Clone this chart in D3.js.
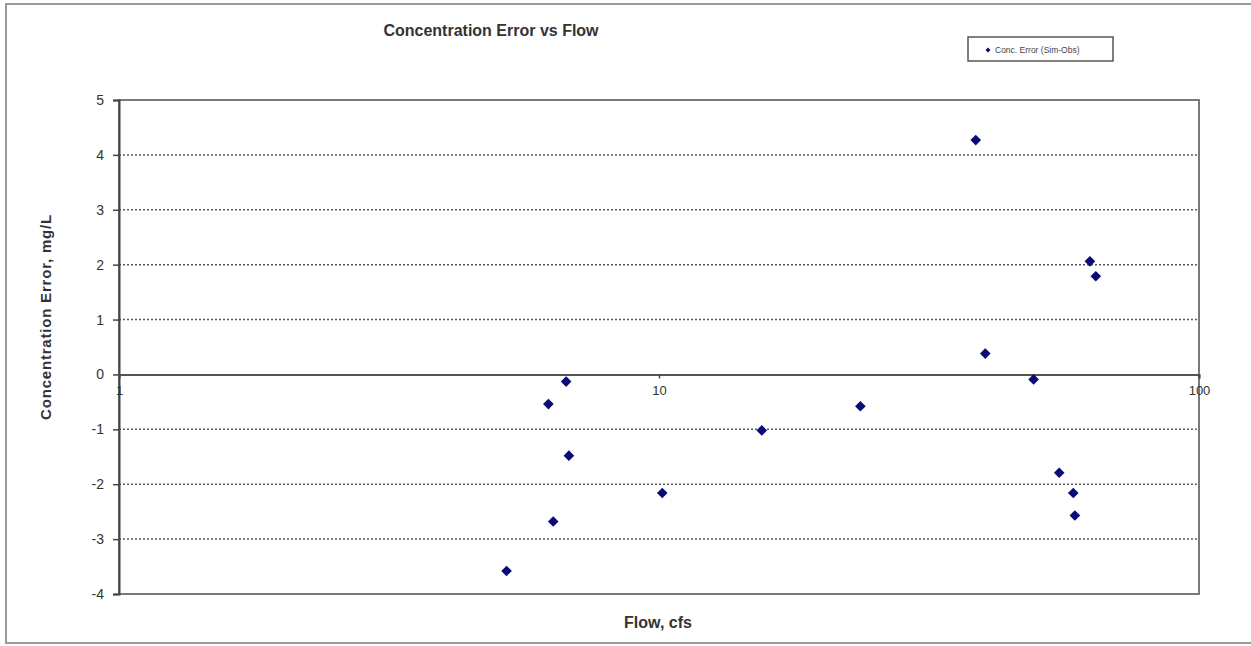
<!DOCTYPE html>
<html>
<head>
<meta charset="utf-8">
<script src="https://cdn.jsdelivr.net/npm/d3@7"></script>
<style>
  body { margin: 0; background: #fff; }
  svg { display: block; font-family: Arial, "Liberation Sans", sans-serif; }
</style>
</head>
<body>
<script>
// flow (cfs) and concentration error (mg/L)
const flow = [38.6, 62.8, 64.4, 40.2, 49.4, 6.73, 6.24, 6.81, 23.6, 15.5, 10.14, 6.37, 5.22, 55.1, 58.5, 58.9];
const concError = [4.27, 2.06, 1.79, 0.38, -0.09, -0.13, -0.54, -1.48, -0.58, -1.02, -2.16, -2.68, -3.58, -1.79, -2.16, -2.57];
const yTicks = [-4, -3, -2, -1, 0, 1, 2, 3, 4, 5];
const xTicks = [1, 10, 100];

const W = 1251, H = 646;
const plot = { left: 119, right: 1199, top: 100, bottom: 594 };

const x = d3.scaleLog().domain([1, 100]).range([plot.left, plot.right]);
const y = d3.scaleLinear().domain([-4, 5]).range([plot.bottom, plot.top]);

const svg = d3.select('body').append('svg')
  .attr('width', W)
  .attr('height', H);

// outer chart frame
svg.append('rect')
  .attr('x', 6).attr('y', 4)
  .attr('width', W + 10).attr('height', 639)
  .attr('fill', '#fff')
  .attr('stroke', '#9a9a9a')
  .attr('stroke-width', 2);

// plot area border
svg.append('rect')
  .attr('x', plot.left).attr('y', plot.top)
  .attr('width', plot.right - plot.left).attr('height', plot.bottom - plot.top)
  .attr('fill', 'none')
  .attr('stroke', '#7a7a7a')
  .attr('stroke-width', 2);

// dashed gridlines
svg.append('g')
  .selectAll('line')
  .data(yTicks.filter(d => d !== 0 && d !== -4 && d !== 5))
  .join('line')
  .attr('x1', plot.left).attr('x2', plot.right)
  .attr('y1', d => y(d)).attr('y2', d => y(d))
  .attr('stroke', '#5a5a5a')
  .attr('stroke-width', 1.5)
  .attr('stroke-dasharray', '2,2');

// y axis (plain hyphen minus, like the original)
const yAxis = d3.axisLeft(y).tickValues(yTicks).tickSize(6).tickPadding(9).tickFormat(d => String(d));
const gy = svg.append('g')
  .attr('transform', `translate(${plot.left},0)`)
  .call(yAxis);
gy.select('.domain').attr('stroke', '#444').attr('stroke-width', 2);
gy.selectAll('.tick line').attr('stroke', '#444').attr('stroke-width', 1.5);
gy.selectAll('.tick text')
  .attr('fill', '#333')
  .style('font-size', '14px');

// x axis crossing at zero
const xAxis = d3.axisBottom(x).tickValues(xTicks).tickSize(4).tickPadding(7).tickFormat(d => String(d));
const gx = svg.append('g')
  .attr('transform', `translate(0,${y(0)})`)
  .call(xAxis);
gx.select('.domain').attr('stroke', '#555').attr('stroke-width', 2);
gx.selectAll('.tick line').attr('stroke', '#444').attr('stroke-width', 1.5);
gx.selectAll('.tick text')
  .attr('fill', '#333')
  .style('font-size', '13px');

// points
const diamond = d3.symbol().type(d3.symbolDiamond2).size(72);
svg.append('g')
  .selectAll('path')
  .data(flow.map((f, i) => ({ f, e: concError[i] })))
  .join('path')
  .attr('d', diamond)
  .attr('transform', d => `translate(${x(d.f)},${y(d.e)})`)
  .attr('fill', '#0a0a78');

// title
svg.append('text')
  .attr('x', 491).attr('y', 36)
  .attr('text-anchor', 'middle')
  .style('font-size', '16px')
  .style('font-weight', 'bold')
  .attr('fill', '#333')
  .text('Concentration Error vs Flow');

// axis titles
svg.append('text')
  .attr('transform', 'translate(51,317) rotate(-90)')
  .attr('text-anchor', 'middle')
  .style('font-size', '15px')
  .style('font-weight', 'bold')
  .style('letter-spacing', '0.8px')
  .attr('fill', '#333')
  .text('Concentration Error, mg/L');

svg.append('text')
  .attr('x', 658).attr('y', 628)
  .attr('text-anchor', 'middle')
  .style('font-size', '16px')
  .style('font-weight', 'bold')
  .attr('fill', '#333')
  .text('Flow, cfs');

// legend
const legend = svg.append('g').attr('transform', 'translate(968,37)');
legend.append('rect')
  .attr('width', 145).attr('height', 24)
  .attr('fill', '#fff')
  .attr('stroke', '#555')
  .attr('stroke-width', 1.5);
legend.append('path')
  .attr('d', d3.symbol().type(d3.symbolDiamond2).size(16))
  .attr('transform', 'translate(20,13)')
  .attr('fill', '#0a0a78');
legend.append('text')
  .attr('x', 27).attr('y', 15.5)
  .style('font-size', '8.5px')
  .attr('fill', '#444')
  .text('Conc. Error (Sim-Obs)');
</script>
</body>
</html>
